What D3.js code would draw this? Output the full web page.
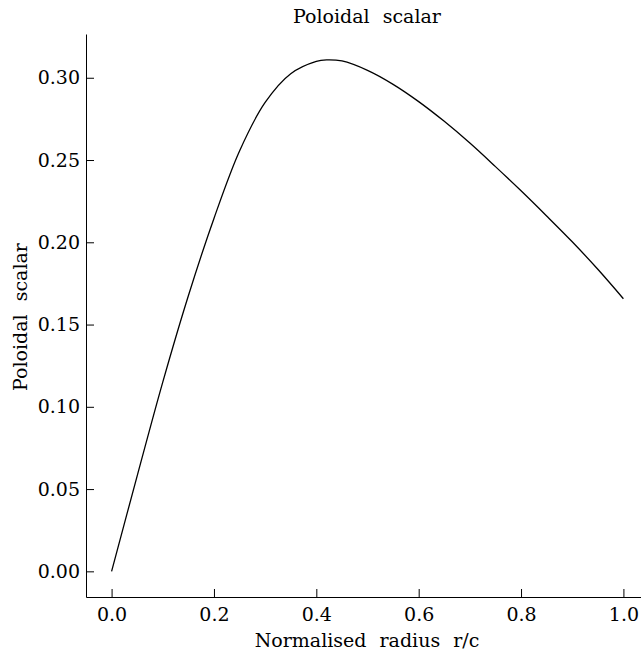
<!DOCTYPE html>
<html>
<head>
<meta charset="utf-8">
<script src="https://cdn.jsdelivr.net/npm/d3@7"></script>
<style>
  body { margin: 0; background: #fff; }
  text { font-family: "DejaVu Serif", serif; fill: #000; }
</style>
</head>
<body>
<div id="chart"></div>
<script>
// values
const radius = [0, 0.05, 0.10, 0.15, 0.20, 0.25, 0.30, 0.35, 0.40, 0.42, 0.45, 0.50, 0.55, 0.60,
  0.65, 0.70, 0.75, 0.80, 0.85, 0.90, 0.95, 1.00];
const poloidal = [0, 0.058, 0.115, 0.1675, 0.2145, 0.2555, 0.2850, 0.3025, 0.3100, 0.3109, 0.3102,
  0.3045, 0.2960, 0.2855, 0.2735, 0.2603, 0.2460, 0.2313, 0.2160, 0.2003, 0.1836, 0.1657];
const xTicks = [0, 0.2, 0.4, 0.6, 0.8, 1.0];
const yTicks = [0, 0.05, 0.10, 0.15, 0.20, 0.25, 0.30];

const width = 641, height = 656;
const margin = {top: 34, right: 0, bottom: 59, left: 86};
const fontSize = '19px';

const svg = d3.select('#chart').append('svg')
  .attr('width', width)
  .attr('height', height);

const x = d3.scaleLinear().domain([-0.05, 1.05]).range([margin.left, 649]);
const y = d3.scaleLinear().domain([-0.0156, 0.3266]).range([height - margin.bottom, margin.top]);

const data = radius.map((r, i) => ({r: r, v: poloidal[i]}));

// bottom axis
const xAxis = svg.append('g')
  .attr('transform', `translate(0,${height - margin.bottom})`)
  .call(d3.axisBottom(x).tickValues(xTicks).tickSizeInner(-8).tickSizeOuter(0)
    .tickPadding(11).tickFormat(d3.format('.1f')));

// left axis
const yAxis = svg.append('g')
  .attr('transform', `translate(${margin.left},0)`)
  .call(d3.axisLeft(y).tickValues(yTicks).tickSizeInner(-8).tickSizeOuter(0)
    .tickPadding(6).tickFormat(d3.format('.2f')));

[xAxis, yAxis].forEach(g => {
  g.selectAll('text').style('font-size', fontSize).style('font-family', '"DejaVu Serif", serif');
  g.select('.domain').attr('stroke', '#000');
  g.selectAll('.tick line').attr('stroke', '#000');
});

const line = d3.line()
  .x(d => x(d.r))
  .y(d => y(d.v))
  .curve(d3.curveCatmullRom.alpha(0.5));

svg.append('path')
  .datum(data)
  .attr('fill', 'none')
  .attr('stroke', '#000')
  .attr('stroke-width', 1.3)
  .attr('d', line);

// titles
svg.append('text')
  .attr('x', 367).attr('y', 23)
  .attr('text-anchor', 'middle')
  .style('font-size', fontSize).style('word-spacing', '7px')
  .text('Poloidal scalar');

svg.append('text')
  .attr('x', 367).attr('y', 647)
  .attr('text-anchor', 'middle')
  .style('font-size', fontSize).style('word-spacing', '7px')
  .text('Normalised radius r/c');

svg.append('text')
  .attr('transform', 'translate(27,317) rotate(-90)')
  .attr('text-anchor', 'middle')
  .style('font-size', fontSize).style('word-spacing', '7px')
  .text('Poloidal scalar');
</script>
</body>
</html>
